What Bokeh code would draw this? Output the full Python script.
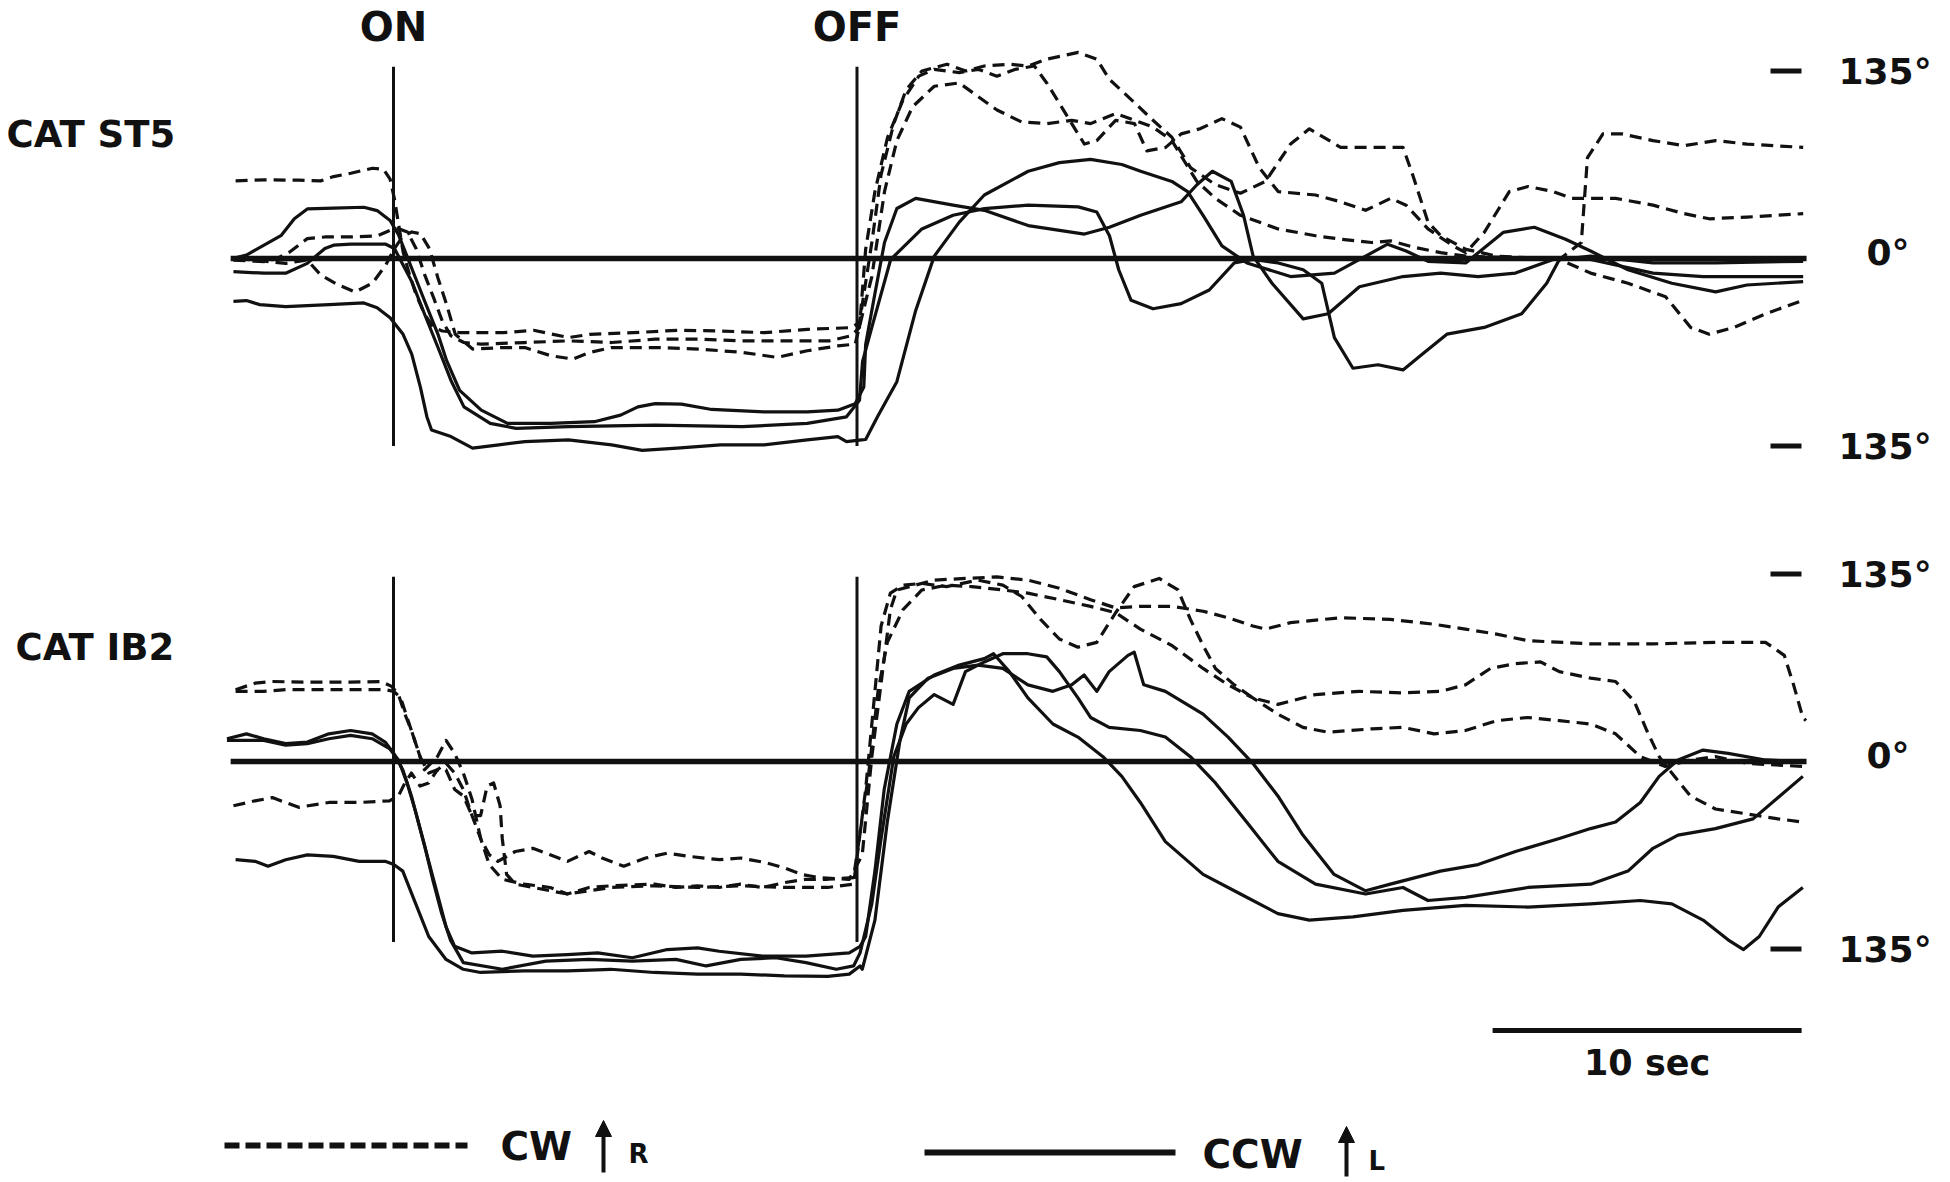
from bokeh.plotting import figure
from bokeh.models import Range1d, Arrow, NormalHead
from bokeh.embed import file_html
from bokeh.resources import INLINE
from bokeh.core.properties import value

# ---------------- data: time (s, stimulus ON = 0, OFF = 15), eye position (deg) ----------------
STIM_ON, STIM_OFF = 0.0, 15.0
SCALE_START, SCALE_LEN = 35.57, 10.0
TRACE_START, TRACE_END = -5.27, 45.73
PANEL_NAMES = ["CAT ST5", "CAT IB2"]
TICK_LABELS = ["135°", "0°", "135°"]

# CAT ST5 - CW (dashed)
ST5_CW1_T = [-5.11,-4.19,-3.07,-2.36,-1.94,-1.38,-0.68,-0.32,-0.11,0.03,0.17,0.31,0.52,0.73,1.01,1.30,1.58,2.14,3.55,4.53,5.66,6.36,7.77,9.18,10.58,11.99,13.39,14.80,15.08,
             15.48,15.78,16.19,16.59,17.10,17.91,18.52,19.12,19.93,20.54,21.14,22.16,22.76,23.17,23.77,24.58,25.19,25.80,26.60,27.41,28.22,29.03,29.64,30.65,32.67,32.98,33.48,33.89,34.70,35.71,37.73,38.44,38.64,39.14,39.75,40.76,41.77,42.79,43.80,45.62]
ST5_CW1_D = [55.9,56.6,56.4,55.9,59.0,61.4,65.0,64.2,57.1,42.9,23.9,4.8,-11.8,-26.0,-40.3,-49.8,-52.2,-53.4,-53.4,-51.7,-56.9,-54.6,-53.4,-51.7,-52.2,-53.4,-51.0,-49.8,-46.2,
             11.5,60.4,97.1,121.5,135.0,139.9,135.0,138.6,139.9,138.6,143.5,148.4,143.5,128.9,116.6,99.5,87.3,65.3,53.1,47.0,55.5,82.4,93.4,80.0,80.0,60.4,26.2,16.4,6.6,1.7,-0.7,11.5,72.6,89.7,89.7,84.9,81.2,84.9,82.4,80.0]
ST5_CW2_T = [-5.18,-4.19,-3.77,-3.35,-2.79,-2.22,-1.38,-0.53,-0.11,0.17,0.45,0.73,1.01,1.30,1.58,1.86,2.28,2.84,4.25,5.66,7.06,8.47,9.88,11.29,12.69,14.10,14.80,15.08,
             15.28,15.58,15.99,16.49,17.00,17.50,18.31,18.92,19.53,20.13,20.74,21.14,21.55,21.95,22.36,22.76,23.37,23.98,24.38,24.99,25.49,26.10,26.81,27.41,28.02,28.63,29.84,30.65,31.46,32.27,32.77,33.48,34.29,34.70,35.30,36.11,36.72,37.53,38.13,39.55,40.76,41.77,42.58,43.80,45.62]
ST5_CW2_D = [-1.1,-2.3,0.1,4.8,14.3,15.5,15.5,16.2,20.3,21.5,19.1,7.2,-11.8,-28.4,-45.1,-55.7,-60.5,-61.7,-60.5,-59.3,-60.5,-58.1,-58.1,-59.3,-59.3,-59.3,-55.7,-49.8,
             6.6,48.2,87.3,114.2,131.3,136.2,133.8,136.2,131.3,136.2,138.6,126.4,111.7,97.1,82.4,84.9,99.5,97.1,77.5,80.0,89.7,93.4,100.7,94.6,65.3,48.2,45.7,40.8,34.7,43.3,38.4,21.3,9.1,4.2,18.8,48.2,51.8,48.2,43.3,43.3,38.4,32.3,28.6,29.8,32.3]
ST5_CW3_T = [-5.04,-3.49,-2.79,-2.36,-1.80,-1.24,-0.68,-0.25,0.03,0.31,0.59,0.87,1.16,1.44,1.72,2.00,2.56,3.55,4.25,5.09,5.80,6.36,7.06,8.47,9.88,11.29,12.41,13.39,14.38,14.94,
             15.48,15.89,16.29,16.80,17.50,18.31,18.92,19.53,20.33,21.14,21.95,22.56,23.37,23.98,24.58,25.19,25.59,26.00,26.60,27.41,28.63,29.84,30.65,31.66,32.27,33.08,33.89,34.70,36.32,37.73,38.74,39.95,41.17,41.98,42.58,43.39,44.40,45.62]
ST5_CW3_D = [0.1,-3.5,-1.1,-11.8,-18.9,-24.1,-17.7,-4.7,7.2,16.2,19.1,17.9,7.2,-14.2,-33.2,-54.6,-65.2,-64.1,-64.1,-70.0,-72.4,-67.6,-64.1,-64.1,-65.2,-67.6,-71.2,-66.4,-62.9,-61.7,
             -13.0,48.2,84.9,109.3,124.0,126.4,116.6,106.9,98.3,97.1,99.5,97.1,104.4,99.5,94.6,84.9,70.2,55.5,43.3,31.1,21.3,16.4,13.9,11.5,12.7,7.8,4.2,1.7,0.5,-0.7,-10.5,-17.8,-27.6,-49.6,-54.5,-49.6,-39.8,-30.1]

# CAT ST5 - CCW (solid)
ST5_CCW1_T = [-5.18,-4.76,-4.19,-3.63,-3.21,-2.79,-1.94,-0.96,-0.53,-0.11,0.17,0.59,1.01,1.44,1.72,2.14,2.84,3.69,5.09,6.50,7.35,7.91,8.47,9.32,10.30,11.99,13.39,14.38,14.94,15.22,
              15.28,15.58,15.89,16.29,16.90,18.11,19.12,20.54,22.36,23.17,24.18,25.49,26.00,26.50,27.11,27.51,27.82,28.43,29.44,30.25,31.26,32.67,33.89,35.10,36.31,37.53,38.74,40.76,42.38,43.80,45.62]
ST5_CCW1_D = [0.1,2.5,9.6,16.7,28.6,35.7,36.2,36.9,34.5,27.4,16.7,-7.0,-30.8,-54.6,-73.6,-94.9,-109.2,-118.7,-118.7,-117.5,-112.8,-106.8,-104.5,-104.9,-108.7,-110.4,-110.4,-109.2,-104.5,-92.6,
              -61.9,-25.2,11.5,36.0,43.3,38.4,34.7,23.7,17.6,22.5,31.1,40.8,53.1,62.8,55.5,31.1,1.7,-17.8,-43.5,-39.8,-20.3,-13.0,-10.5,-13.0,-10.5,-0.7,-0.7,-10.5,-13.0,-13.0,-13.0]
ST5_CCW2_T = [-5.18,-4.19,-3.49,-2.79,-2.22,-1.94,-1.38,-0.25,0.03,0.31,0.59,1.01,1.44,1.86,2.28,3.13,3.97,5.66,8.47,11.29,13.39,14.66,15.08,
              15.18,15.48,16.09,17.10,18.11,19.12,20.54,22.16,22.76,23.17,23.47,23.87,24.58,25.49,26.40,27.21,27.82,28.63,29.44,30.04,30.45,31.05,31.86,32.67,33.28,34.09,35.30,36.51,37.32,37.73,38.74,40.76,42.79,45.62]
ST5_CCW2_D = [-9.4,-10.6,-10.6,-3.5,7.2,9.6,10.3,10.3,7.2,-4.7,-16.5,-40.3,-64.1,-87.8,-106.8,-118.7,-122.3,-121.1,-119.9,-121.1,-118.7,-114.0,-102.1,
              -74.1,-49.6,-0.7,21.3,31.1,35.9,38.4,37.2,33.5,16.4,-8.1,-30.1,-36.2,-32.5,-22.7,-3.2,-0.7,-3.2,-8.1,-17.8,-57.0,-79.0,-76.5,-80.2,-69.2,-54.5,-49.6,-39.8,-17.8,-0.7,1.7,-3.2,-3.2,-2.0]
ST5_CCW3_T = [-5.18,-4.76,-4.33,-3.49,-2.08,-0.96,-0.53,-0.11,0.31,0.59,0.87,1.08,1.23,1.86,2.56,3.41,4.25,5.66,7.06,8.05,9.18,10.58,11.99,13.39,14.38,14.66,15.15,
              15.28,15.68,16.29,16.90,17.50,18.31,19.12,20.54,21.55,22.56,23.57,24.18,25.19,25.70,26.20,26.81,27.62,29.03,30.45,31.46,32.17,32.77,33.48,34.70,35.91,36.92,37.93,38.74,39.95,41.37,42.79,43.80,45.62]
ST5_CCW3_D = [-30.8,-30.3,-33.2,-34.6,-33.2,-32.0,-35.5,-42.7,-54.6,-68.8,-92.6,-113.9,-123.5,-128.2,-136.5,-134.2,-131.8,-130.6,-134.2,-138.2,-136.5,-134.2,-134.2,-130.6,-128.2,-131.8,-130.6,
              -130.3,-113.2,-88.7,-37.4,1.7,26.2,45.7,62.8,69.0,71.4,67.7,62.8,55.5,48.2,31.1,9.1,-3.2,-13.0,-10.5,1.7,10.3,5.4,-2.0,-3.2,18.8,22.5,13.9,5.4,-8.1,-17.8,-24.0,-19.1,-16.6]

# CAT IB2 - CW (dashed)
IB2_CW1_T = [-5.11,-4.48,-3.92,-2.79,-1.39,-0.41,-0.06,0.16,0.37,0.58,0.86,1.00,1.42,1.70,1.98,2.26,2.54,2.68,2.82,3.10,3.38,3.94,4.51,5.07,5.63,6.33,6.75,7.45,8.16,8.86,9.56,10.54,11.24,12.08,12.65,13.21,13.77,14.75,
             15.17,15.48,15.88,16.08,16.29,16.89,17.50,18.51,19.52,20.53,21.55,22.56,23.37,24.17,25.19,26.20,27.01,27.81,28.22,29.03,30.65,32.26,33.68,34.69,35.70,36.71,38.74,40.76,42.78,44.40,45.01,45.31,45.61,45.71]
IB2_CW1_D = [51.7,56.4,57.6,57.1,57.1,57.6,54.1,48.2,34.1,22.3,3.5,-6.0,3.5,15.2,5.8,-8.3,-27.1,-41.3,-55.4,-67.2,-71.9,-64.8,-62.5,-67.2,-71.9,-64.8,-69.5,-75.4,-69.5,-66.0,-68.3,-70.7,-69.5,-73.0,-76.6,-81.3,-83.6,-84.8,
             -67.2,3.5,74.1,109.4,123.5,127.0,130.6,131.8,132.9,130.6,124.7,116.5,110.6,111.7,111.7,108.2,103.5,97.6,95.3,100.0,103.5,102.3,98.8,95.3,91.7,87.0,84.7,84.7,85.8,85.8,76.4,55.2,31.7,29.4]
IB2_CW2_T = [-5.11,-4.20,-3.49,-2.79,-1.39,-0.27,0.01,0.23,0.44,0.65,0.86,1.14,1.42,1.70,1.98,2.26,2.54,2.82,3.03,3.24,3.45,3.52,3.66,3.94,4.51,5.63,7.03,8.44,9.84,11.24,12.65,14.05,14.89,
             15.28,15.58,15.78,16.08,16.49,17.10,17.90,18.92,19.72,20.33,20.94,21.55,22.15,22.76,23.37,23.97,24.78,25.39,25.79,26.20,26.60,27.21,27.81,28.62,29.84,31.25,32.67,33.88,34.69,35.50,36.31,37.12,37.73,38.74,39.55,40.15,40.56,40.96,41.37,41.97,42.78,43.79,44.81,45.61]
IB2_CW2_D = [50.5,50.5,51.7,51.7,51.7,51.7,50.5,45.8,31.7,17.6,3.5,-8.3,-6.0,-6.0,-20.1,-24.8,-38.9,-38.9,-17.7,-15.4,-31.9,-55.4,-81.3,-88.3,-90.7,-95.4,-90.7,-89.5,-90.7,-89.5,-90.7,-90.7,-88.3,
             -20.1,50.5,97.6,121.2,127.0,128.2,125.9,130.6,127.0,118.8,102.3,88.2,82.3,85.8,107.1,125.9,131.8,123.5,102.3,83.5,67.0,55.2,45.8,41.1,48.2,50.5,49.4,50.5,55.2,67.0,70.5,71.7,64.7,60.0,57.6,43.5,22.3,3.5,-8.3,-24.8,-34.2,-37.7,-41.3,-43.6]
IB2_CW3_T = [-5.18,-4.48,-3.92,-3.07,-2.09,-1.11,-0.13,0.16,0.37,0.58,0.86,1.14,1.42,1.70,1.98,2.26,2.54,2.82,3.10,3.52,4.23,5.07,5.63,6.33,7.03,8.44,9.14,9.84,10.54,11.24,11.94,12.65,13.35,14.05,14.89,
             15.38,15.68,15.98,16.49,17.10,17.90,18.71,19.72,20.53,21.55,22.56,23.37,24.17,25.19,26.20,27.01,27.81,28.62,29.43,30.24,31.66,32.67,33.68,34.69,35.70,36.71,37.73,38.74,39.55,40.35,41.16,41.97,42.78,43.79,45.61]
IB2_CW3_D = [-31.9,-28.3,-26.0,-33.0,-29.5,-29.5,-28.3,-24.8,-15.4,-8.3,-17.7,-15.4,-6.0,-1.3,-8.3,-20.1,-38.9,-55.4,-74.2,-84.8,-88.3,-90.7,-95.4,-90.7,-89.5,-88.3,-90.7,-89.5,-90.7,-88.3,-90.7,-87.2,-84.8,-84.8,-83.6,
             -8.3,50.5,85.8,109.4,123.5,127.0,125.9,123.5,121.2,116.5,111.7,107.1,95.3,83.5,67.0,55.2,45.8,34.1,24.6,21.1,23.5,24.6,19.9,22.3,29.4,31.7,29.4,27.0,19.9,3.5,-3.6,1.1,3.5,-1.3,-3.6]

# CAT IB2 - CCW (solid)
IB2_CCW1_T = [-5.39,-4.76,-4.20,-3.49,-2.79,-2.09,-1.39,-0.69,-0.27,0.01,0.30,0.58,0.86,1.14,1.42,1.70,1.98,2.54,3.52,4.51,5.63,6.61,7.73,8.86,9.84,10.54,11.94,13.35,14.75,15.10,
              15.28,15.58,15.88,16.29,16.69,17.50,18.31,19.12,19.42,19.93,20.53,21.34,22.15,22.96,23.57,24.17,24.98,26.20,27.41,28.62,29.64,31.05,32.67,34.69,36.71,38.74,40.35,41.37,42.38,43.19,43.69,44.20,44.81,45.61]
IB2_CCW1_D = [16.4,19.9,16.4,12.9,14.0,19.9,22.3,19.9,14.0,5.8,-6.0,-24.8,-48.3,-71.9,-95.4,-119.0,-133.1,-137.8,-136.6,-140.1,-139.0,-137.8,-141.3,-135.4,-134.2,-136.6,-140.1,-140.1,-137.8,-133.1,
              -126.0,-78.9,-20.1,27.0,50.5,62.3,69.4,74.1,77.6,64.7,45.8,27.0,17.6,3.5,-10.7,-29.5,-57.7,-81.3,-95.4,-109.5,-114.2,-111.9,-107.2,-103.6,-104.8,-102.5,-100.1,-102.5,-114.2,-128.4,-135.4,-126.0,-104.8,-90.7]
IB2_CCW2_T = [-5.39,-4.76,-4.20,-3.49,-2.79,-2.09,-1.39,-0.69,-0.13,0.16,0.44,0.72,1.00,1.28,1.56,1.84,2.26,3.52,4.93,6.33,7.73,9.14,10.12,11.24,12.37,13.35,14.33,14.89,15.10,
              15.48,15.78,16.19,16.59,16.99,17.50,18.11,18.51,19.12,19.72,20.53,21.14,21.55,22.15,22.56,23.16,24.17,24.98,25.79,26.60,27.61,28.62,29.84,31.46,32.67,33.48,34.69,36.71,38.74,39.95,40.76,41.57,42.78,44.00,45.61]
IB2_CCW2_D = [15.2,15.2,15.2,11.7,12.9,16.4,18.8,16.4,9.3,1.1,-15.4,-36.6,-60.1,-86.0,-109.5,-128.4,-144.8,-149.6,-143.7,-142.5,-143.7,-142.5,-147.2,-142.5,-141.3,-144.8,-149.6,-147.2,-137.8,
              -102.5,-55.4,3.5,27.0,38.8,48.2,41.1,64.7,71.7,77.6,77.6,75.3,64.7,45.8,31.7,24.6,22.3,17.6,3.5,-15.4,-43.6,-71.9,-88.3,-95.4,-90.7,-100.1,-97.8,-90.7,-88.3,-78.9,-62.5,-53.0,-48.3,-41.3,-10.7]
IB2_CCW3_T = [-5.11,-4.48,-4.06,-3.49,-2.79,-1.95,-1.11,-0.27,0.01,0.30,0.72,1.14,1.70,2.26,2.82,4.23,5.63,7.03,8.44,9.84,11.24,12.65,14.05,14.75,15.10,
              15.17,15.58,15.98,16.39,16.69,17.30,18.11,18.92,19.72,20.53,21.34,21.95,22.35,22.76,23.16,23.77,23.97,24.28,24.98,26.20,27.01,27.81,28.62,29.43,30.44,31.46,32.26,33.07,33.88,35.10,36.31,37.73,38.74,39.55,40.35,40.96,41.57,42.38,43.19,44.40,45.61]
IB2_CCW3_D = [-70.7,-71.9,-75.4,-70.7,-67.2,-68.3,-71.9,-71.9,-74.2,-78.9,-102.5,-126.0,-142.5,-149.6,-151.9,-150.7,-150.7,-149.6,-151.9,-153.1,-153.1,-154.3,-154.7,-153.1,-147.2,
              -149.6,-114.2,-43.6,15.2,45.8,60.0,67.0,69.4,67.0,55.2,50.5,55.2,62.3,50.5,64.7,76.4,78.8,55.2,50.5,34.1,17.6,-1.3,-24.8,-53.0,-81.3,-93.1,-88.3,-83.6,-78.9,-74.2,-64.8,-55.4,-48.3,-43.6,-29.5,-10.7,1.1,8.2,5.8,1.1,-0.07]

ST5_CW = [(ST5_CW1_T, ST5_CW1_D), (ST5_CW2_T, ST5_CW2_D), (ST5_CW3_T, ST5_CW3_D)]
ST5_CCW = [(ST5_CCW1_T, ST5_CCW1_D), (ST5_CCW2_T, ST5_CCW2_D), (ST5_CCW3_T, ST5_CCW3_D)]
IB2_CW = [(IB2_CW1_T, IB2_CW1_D), (IB2_CW2_T, IB2_CW2_D), (IB2_CW3_T, IB2_CW3_D)]
IB2_CCW = [(IB2_CCW1_T, IB2_CCW1_D), (IB2_CCW2_T, IB2_CCW2_D), (IB2_CCW3_T, IB2_CCW3_D)]

# ---------------- figure ----------------
# Bokeh's page template has no body margin: page coordinates = window pixels.
W, H = 1946, 1178
PX_PER_S = 30.9
DEG_PER_PX = 0.72
X0_PX, ZERO_TOP_PX, ZERO_BOT_PX = 393.0, 258.0, 761.0

p = figure(width=W, height=H,
           x_range=Range1d((0 - X0_PX) / PX_PER_S, (W - X0_PX) / PX_PER_S),
           y_range=Range1d((ZERO_TOP_PX - H) * DEG_PER_PX, ZERO_TOP_PX * DEG_PER_PX),
           output_backend="svg", toolbar_location=None, min_border=0,
           x_axis_location=None, y_axis_location=None, outline_line_color=None,
           background_fill_color="white", border_fill_color="white")
p.grid.visible = False
p.extra_y_ranges = {
    "ib2": Range1d((ZERO_BOT_PX - H) * DEG_PER_PX, ZERO_BOT_PX * DEG_PER_PX),
    "page": Range1d(H, 0),
}
p.extra_x_ranges = {"page": Range1d(0, W)}

FONT = value("DejaVu Sans")
INK = "#111111"
DASH = "12 7"

def draw_panel(cw, ccw, yname):
    kw = {} if yname is None else {"y_range_name": yname}
    p.segment(x0=[TRACE_START], x1=[TRACE_END], y0=[0], y1=[0], line_width=5.5, line_color=INK, **kw)
    for t, d in ccw:
        p.line(t, d, line_width=3.2, line_color=INK, line_join="round", **kw)
    for t, d in cw:
        p.line(t, d, line_width=3.2, line_color=INK, line_dash=DASH, line_join="round", **kw)
    # right-hand scale: ticks and labels
    p.segment(x0=[1770, 1770], x1=[1801, 1801], y0=[135, -135], y1=[135, -135],
              line_width=5, line_color=INK, x_range_name="page", **kw)
    p.text(x=[1838, 1866, 1838], y=[135, 4, -135], text=TICK_LABELS,
           text_font=FONT, text_font_style="bold", text_font_size="36px",
           text_color=INK, text_baseline="middle", text_align="left",
           x_range_name="page", **kw)

draw_panel(ST5_CW, ST5_CCW, None)
draw_panel(IB2_CW, IB2_CCW, "ib2")

# stimulus ON / OFF markers
p.segment(x0=[STIM_ON, STIM_OFF], x1=[STIM_ON, STIM_OFF], y0=[138, 138], y1=[-135, -135],
          line_width=3, line_color=INK)
p.segment(x0=[STIM_ON, STIM_OFF], x1=[STIM_ON, STIM_OFF], y0=[133, 133], y1=[-130, -130],
          line_width=3, line_color=INK, y_range_name="ib2")
p.text(x=[STIM_ON, STIM_OFF], y=[26, 26], text=["ON", "OFF"],
       text_font=FONT, text_font_style="bold", text_font_size="40px", text_color=INK,
       text_baseline="middle", text_align="center", y_range_name="page")

# panel names
p.text(x=[6, 15], y=[134, 647], text=PANEL_NAMES,
       text_font=FONT, text_font_style="bold", text_font_size="37px", text_color=INK,
       text_baseline="middle", text_align="left", x_range_name="page", y_range_name="page")

# time scale bar
p.segment(x0=[SCALE_START], x1=[SCALE_START + SCALE_LEN], y0=[1030], y1=[1030],
          line_width=5, line_color=INK, y_range_name="page")
p.text(x=[SCALE_START + SCALE_LEN / 2], y=[1062], text=["10 sec"],
       text_font=FONT, text_font_style="bold", text_font_size="35px", text_color=INK,
       text_baseline="middle", text_align="center", y_range_name="page")

# legend
p.segment(x0=[224], x1=[467], y0=[1145], y1=[1145], line_width=6, line_color=INK,
          line_dash="15 6", x_range_name="page", y_range_name="page")
p.segment(x0=[924], x1=[1175], y0=[1152], y1=[1152], line_width=6, line_color=INK,
          x_range_name="page", y_range_name="page")
p.text(x=[500, 1202], y=[1146, 1154], text=["CW", "CCW"],
       text_font=FONT, text_font_style="bold", text_font_size="39px", text_color=INK,
       text_baseline="middle", text_align="left", x_range_name="page", y_range_name="page")
p.text(x=[628, 1368], y=[1153, 1160], text=["R", "L"],
       text_font=FONT, text_font_style="bold", text_font_size="26px", text_color=INK,
       text_baseline="middle", text_align="left", x_range_name="page", y_range_name="page")
for xa, ys, ye in [(603, 1172, 1120), (1346, 1176, 1126)]:
    p.add_layout(Arrow(end=NormalHead(size=16, fill_color=INK, line_color=INK),
                       x_start=xa, y_start=ys, x_end=xa, y_end=ye,
                       line_width=4, line_color=INK,
                       x_range_name="page", y_range_name="page"))

open("out.html", "w").write(file_html(p, INLINE))
